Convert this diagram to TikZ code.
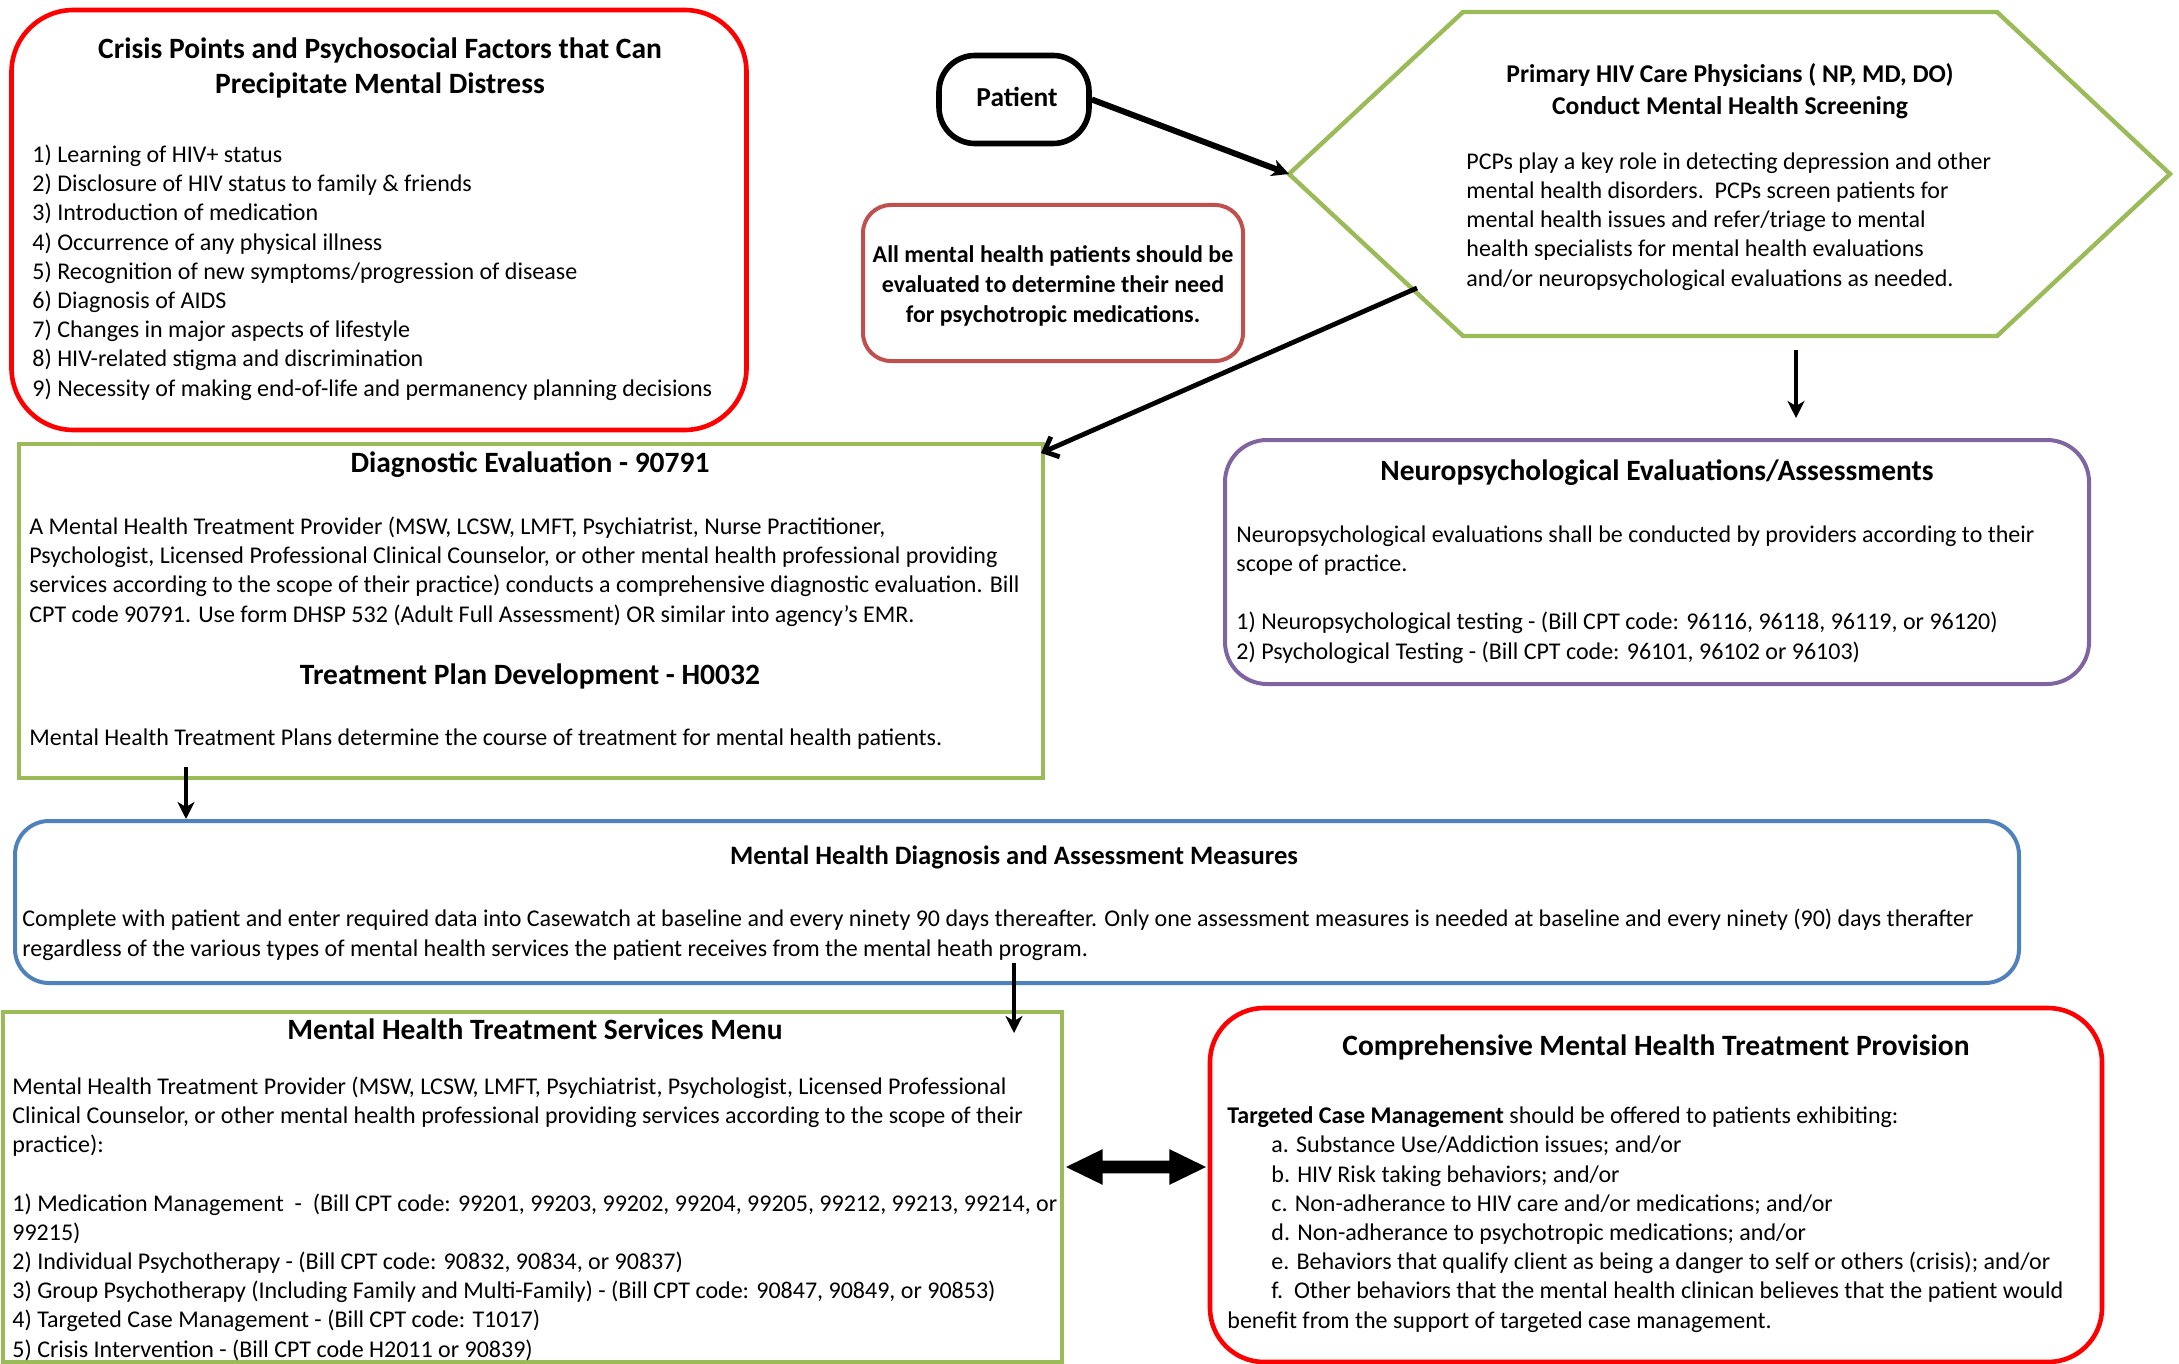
\documentclass[tikz,border=0pt]{standalone}
\usepackage{fontspec}
\setmainfont{Carlito}
\usetikzlibrary{arrows.meta,shapes.arrows}
\definecolor{cred}{HTML}{FF0000}
\definecolor{cgreen}{HTML}{9BBB59}
\definecolor{cpurple}{HTML}{8064A2}
\definecolor{cblue}{HTML}{4F81BD}
\definecolor{cnote}{HTML}{C0504D}
\tikzset{
  box/.style={draw, inner sep=0pt, line width=2pt},
  body/.style={font=\fontsize{12}{14.6}\selectfont, align=left, inner sep=0pt, anchor=base west},
  ttl/.style={font=\fontsize{14.75}{17.5}\selectfont\bfseries, align=center, inner sep=0pt},
  arr/.style={-{Stealth[length=8.5pt,width=8.5pt,inset=2.5pt]}, line width=2.3pt},
  barb/.style={-{Straight Barb[length=6pt,width=11pt]}, line width=2.4pt},
}
\begin{document}
\begin{tikzpicture}[x=0.5pt,y=-0.5pt]
\useasboundingbox (0,0) rectangle (2179,1364);

% boxes
\node[box, draw=cred, line width=2.3pt, rounded corners=31pt, minimum width=367.5pt, minimum height=210pt] (crisis) at (379,220) {};
\node[box, line width=2.8pt, rounded corners=18pt, minimum width=75pt, minimum height=44pt] (patient) at (1014,99.5) {};
\node[box, draw=cnote, rounded corners=14pt, minimum width=190pt, minimum height=78pt] (note) at (1053,283) {};
\node[box, draw=cgreen, minimum width=512pt, minimum height=167pt] (diag) at (531,611) {};
\node[box, draw=cpurple, rounded corners=21pt, minimum width=432pt, minimum height=122pt] (neuro) at (1657,562) {};
\node[box, draw=cblue, rounded corners=17pt, minimum width=1002pt, minimum height=81pt] (mhd) at (1017,902) {};
\node[box, draw=cgreen, minimum width=529.5pt, minimum height=175pt] (serv) at (532,1187) {};
\node[box, draw=cred, line width=2.3pt, rounded corners=27pt, minimum width=446pt, minimum height=177pt] (comp) at (1656,1185) {};

% hexagon
\coordinate (hexTL) at (1463,12);
\coordinate (hexTR) at (1997,12);
\coordinate (hexR) at (2170,174);
\coordinate (hexBR) at (1997,336);
\coordinate (hexBL) at (1463,336);
\coordinate (hexL) at (1289,174);
\draw[cgreen, line width=2.2pt, line join=miter] (hexTL) -- (hexTR) -- (hexR) -- (hexBR) -- (hexBL) -- (hexL) -- cycle;

% texts (multi-line body nodes are anchored at the baseline of their last line)
\node[ttl] (crisisT) at (380,68) {Crisis Points and Psychosocial Factors that Can\\Precipitate Mental Distress};
\node[body] (crisisB) at (32,396) {1) Learning of HIV+ status\\
2) Disclosure of HIV status to family \& friends\\
3) Introduction of medication\\
4) Occurrence of any physical illness\\
5) Recognition of new symptoms/progression of disease\\
6) Diagnosis of AIDS\\
7) Changes in major aspects of lifestyle\\
8) HIV-related stigma and discrimination\\
9) Necessity of making end-of-life and permanency planning decisions};

\node[ttl, font=\fontsize{13.7}{16}\selectfont\bfseries] (patientT) at (1017,97) {Patient};

\node[ttl, font=\fontsize{12.8}{16}\selectfont\bfseries] (hexT) at (1730,91) {Primary HIV Care Physicians ( NP, MD, DO)\\Conduct Mental Health Screening};
\node[body] (hexB) at (1466,286) {PCPs play a key role in detecting depression and other\\
mental health disorders.\ \ PCPs screen patients for\\
mental health issues and refer/triage to mental\\
health specialists for mental health evaluations\\
and/or neuropsychological evaluations as needed.};

\node[ttl, font=\fontsize{12}{14.9}\selectfont\bfseries] (noteT) at (1053,286) {All mental health patients should be\\evaluated to determine their need\\for psychotropic medications.};

\node[ttl] (diagT) at (530,465) {Diagnostic Evaluation - 90791};
\node[body] (diagB) at (29,622) {A Mental Health Treatment Provider (MSW, LCSW, LMFT, Psychiatrist, Nurse Practitioner,\\
Psychologist, Licensed Professional Clinical Counselor, or other mental health professional providing\\
services according to the scope of their practice) conducts a comprehensive diagnostic evaluation. Bill\\
CPT code 90791. Use form DHSP 532 (Adult Full Assessment) OR similar into agency's EMR.};
\node[ttl] (planT) at (530,676) {Treatment Plan Development - H0032};
\node[body] (planB) at (29,745) {Mental Health Treatment Plans determine the course of treatment for mental health patients.};

\node[ttl] (neuroT) at (1657,473) {Neuropsychological Evaluations/Assessments};
\node[body] (neuroB) at (1236,659) {Neuropsychological evaluations shall be conducted by providers according to their\\
scope of practice.\\[14.6pt]
1) Neuropsychological testing - (Bill CPT code: 96116, 96118, 96119, or 96120)\\
2) Psychological Testing - (Bill CPT code: 96101, 96102 or 96103)};

\node[ttl, font=\fontsize{13.3}{16}\selectfont\bfseries] (mhdT) at (1014,857) {Mental Health Diagnosis and Assessment Measures};
\node[body] (mhdB) at (22,956) {Complete with patient and enter required data into Casewatch at baseline and every ninety 90 days thereafter. Only one assessment measures is needed at baseline and every ninety (90) days therafter\\
regardless of the various types of mental health services the patient receives from the mental heath program.};

\node[ttl] (servT) at (535,1029) {Mental Health Treatment Services Menu};
\node[body] (servB) at (12,1357) {Mental Health Treatment Provider (MSW, LCSW, LMFT, Psychiatrist, Psychologist, Licensed Professional\\
Clinical Counselor, or other mental health professional providing services according to the scope of their\\
practice):\\[14.6pt]
1) Medication Management\ \ -\ \ (Bill CPT code: 99201, 99203, 99202, 99204, 99205, 99212, 99213, 99214, or\\
99215)\\
2) Individual Psychotherapy - (Bill CPT code: 90832, 90834, or 90837)\\
3) Group Psychotherapy (Including Family and Multi-Family) - (Bill CPT code: 90847, 90849, or 90853)\\
4) Targeted Case Management - (Bill CPT code: T1017)\\
5) Crisis Intervention - (Bill CPT code H2011 or 90839)};

\node[ttl] (compT) at (1656,1047) {Comprehensive Mental Health Treatment Provision};
\node[body] (compB) at (1227,1328) {\textbf{Targeted Case Management} should be offered to patients exhibiting:\\
\hspace*{22pt}a. Substance Use/Addiction issues; and/or\\
\hspace*{22pt}b. HIV Risk taking behaviors; and/or\\
\hspace*{22pt}c. Non-adherance to HIV care and/or medications; and/or\\
\hspace*{22pt}d. Non-adherance to psychotropic medications; and/or\\
\hspace*{22pt}e. Behaviors that qualify client as being a danger to self or others (crisis); and/or\\
\hspace*{22pt}f.\ \ Other behaviors that the mental health clinican believes that the patient would\\
benefit from the support of targeted case management.};

% connectors
\draw[arr, line width=3pt] (patient.east) -- (hexL);
\coordinate (hexS) at (1417,288);
\coordinate (diagIn) at (1041,453);
\draw[barb] (hexS) -- (diagIn);
\coordinate (hexD) at (1796,350);
\draw[arr, shorten >=10pt] (hexD) -- (hexD |- neuro.north);
\coordinate (diagS) at (186,767);
\draw[arr] (diagS) -- (diagS |- mhd.north);
\coordinate (mhdS) at (1014,963);
\coordinate (servE) at (1014,1033);
\draw[arr] (mhdS) -- (servE);
\node[double arrow, fill=black, inner sep=3pt, minimum height=70pt, double arrow head extend=5.75pt, double arrow tip angle=52] (dbl) at (1136,1167) {};
\end{tikzpicture}
\end{document}
